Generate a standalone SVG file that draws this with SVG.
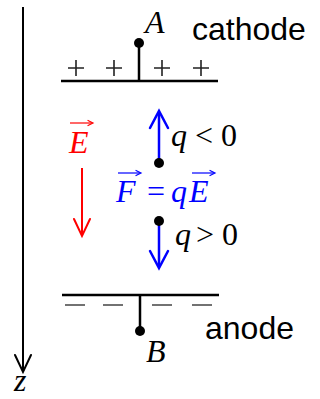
<svg xmlns="http://www.w3.org/2000/svg" width="320" height="399" viewBox="0 0 320 399">
<defs>
<style>
.m{font-family:"Liberation Serif","Times New Roman",serif;font-style:italic;font-size:32px}
.u{font-family:"Liberation Serif","Times New Roman",serif;font-size:32px}
.s{font-family:"Liberation Sans",Arial,sans-serif;font-size:32px;fill:#000}
.open{fill:none;stroke-linecap:round;stroke-linejoin:miter}
</style>
</defs>
<rect width="320" height="399" fill="#fff"/>
<g id="z-axis">
<line x1="23" y1="7" x2="23" y2="371" stroke="#000" stroke-width="2"/>
<polyline class="open" points="15,355 23,372 31,355" stroke="#000" stroke-width="2"/>
<text class="m" x="14" y="391">z</text>
</g>
<g id="cathode">
<line x1="61" y1="81" x2="218" y2="81" stroke="#000" stroke-width="2.5"/>
<line x1="139" y1="81" x2="139" y2="43" stroke="#000" stroke-width="2.5"/>
<circle cx="139" cy="43" r="5" fill="#000"/>
<path d="M68 68h16M76 60v16M106 68h16M114 60v16M154 68h16M162 60v16M193 68h16M201 60v16" stroke="#222" stroke-width="1.6"/>
<text class="m" x="145" y="33">A</text>
<text class="s" x="192" y="40">cathode</text>
</g>
<g id="anode">
<line x1="62" y1="295" x2="219" y2="295" stroke="#000" stroke-width="2.5"/>
<line x1="140" y1="295" x2="140" y2="331" stroke="#000" stroke-width="2.5"/>
<circle cx="140" cy="331" r="5" fill="#000"/>
<path d="M65 305h20M103 305h20M152 305h20M192 305h20" stroke="#444" stroke-width="1.6"/>
<text class="m" x="146" y="362">B</text>
<text class="s" x="205" y="339">anode</text>
</g>
<g id="field">
<text class="m" x="69" y="153" fill="#f00">E</text>
<line x1="70" y1="123" x2="92" y2="123" stroke="#f00" stroke-width="1.2"/>
<polyline class="open" points="88,120.5 93,123 88,125.5" stroke="#f00" stroke-width="1.2"/>
<line x1="82" y1="168" x2="82" y2="236" stroke="#f00" stroke-width="2"/>
<polyline class="open" points="74,219 82,236 90,219" stroke="#f00" stroke-width="2"/>
</g>
<g id="neg-charge">
<line x1="159" y1="163" x2="159" y2="112" stroke="#00f" stroke-width="2.5"/>
<polyline class="open" points="150,128 159,111 168,128" stroke="#00f" stroke-width="2.5"/>
<circle cx="159" cy="163" r="5" fill="#000"/>
<text y="146" fill="#000"><tspan class="m" x="171">q</tspan><tspan class="u" x="195">&lt;</tspan><tspan class="u" x="221">0</tspan></text>
</g>
<g id="force">
<text y="202" fill="#00f"><tspan class="m" x="116">F</tspan><tspan class="u" x="147">=</tspan><tspan class="m" x="171">q</tspan><tspan class="m" x="189">E</tspan></text>
<line x1="118" y1="173" x2="140" y2="173" stroke="#00f" stroke-width="1.2"/>
<polyline class="open" points="136,170.5 141,173 136,175.5" stroke="#00f" stroke-width="1.2"/>
<line x1="192" y1="173" x2="214" y2="173" stroke="#00f" stroke-width="1.2"/>
<polyline class="open" points="210,170.5 215,173 210,175.5" stroke="#00f" stroke-width="1.2"/>
</g>
<g id="pos-charge">
<line x1="159" y1="221" x2="159" y2="267" stroke="#00f" stroke-width="2.5"/>
<polyline class="open" points="150,251 159,268 168,251" stroke="#00f" stroke-width="2.5"/>
<circle cx="159" cy="221" r="5" fill="#000"/>
<text y="245" fill="#000"><tspan class="m" x="175">q</tspan><tspan class="u" x="196">&gt;</tspan><tspan class="u" x="222">0</tspan></text>
</g>
</svg>
